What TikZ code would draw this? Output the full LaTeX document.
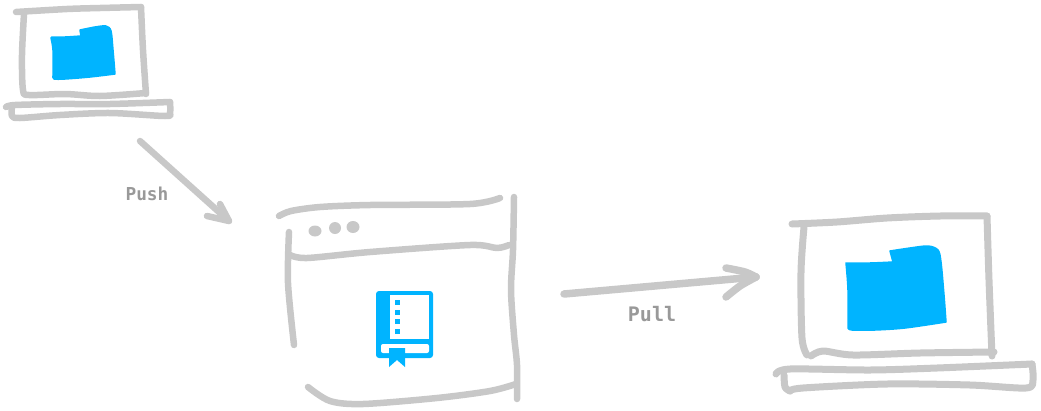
\documentclass[tikz,border=0pt]{standalone}
\usepackage{fontspec}
\newfontfamily\labelfont[Ligatures=NoCommon]{DejaVu Sans Mono}
\definecolor{sketchgray}{HTML}{C8C8C8}
\definecolor{labelgray}{HTML}{999999}
\definecolor{iconblue}{HTML}{00B4FF}
\tikzset{
  pen/.style={draw=sketchgray,line cap=round,line join=round,line width=#1},
  pen/.default=6.5pt,
  blob/.style={fill=iconblue,draw=iconblue,line width=1.5pt,line join=round},
  hand/.style={smooth,tension=0.5},
  steplabel/.style={font=\labelfont\bfseries,text=labelgray,inner sep=0pt}
}
\begin{document}
\begin{tikzpicture}[x=1pt,y=-1pt]
\useasboundingbox (0,0) rectangle (1041,410);
% small laptop
\draw[pen] plot[hand] coordinates {(16,12) (67,9) (100,8) (141,7)};
\draw[pen] plot[hand] coordinates {(141,7) (143,50) (146,94)};
\draw[pen] plot[hand] coordinates {(24,14) (22,55) (23,90) (29,95) (65,94) (100,96) (146,93)};
\draw[pen] plot[hand] coordinates {(6,107) (15,105) (60,104) (110,104) (170,102)};
\draw[pen] plot[hand] coordinates {(170,102) (170,113) (165,116) (110,113) (60,115) (20,118) (12,116) (12,107)};
\draw[blob] plot[hand] coordinates {(52,37) (65,37) (81,36)} -- (80,30) -- plot[hand] coordinates {(80,30) (95,27) (106,26) (111,31) (113,50) (115,74)} -- plot[hand] coordinates {(115,74) (90,77) (65,79) (54,79) (53,76)} -- plot[hand] coordinates {(53,76) (53,50) (51,38)} -- cycle;
% push arrow
\coordinate (pushstart) at (140,141);
\coordinate (pushend) at (229,221);
\coordinate (pushleft) at (207,216);
\coordinate (pushright) at (220,204);
\draw[pen=6.5pt] (pushstart) -- (pushend);
\draw[pen=6.5pt] (pushleft) -- (pushend) -- (pushright);
\node[steplabel,font=\fontsize{17.8pt}{20pt}\labelfont\bfseries] (pushlabel) at (147,194) {Push};
% window
\draw[pen] plot[hand] coordinates {(279,216) (291,211) (320,207) (370,205) (470,204) (500,198)};
\draw[pen] plot[hand] coordinates {(514,197) (513,250) (511,290) (514,335) (517,365) (517,399)};
\draw[pen] plot[hand] coordinates {(289,232) (288,283) (294,345)};
\draw[pen] plot[hand] coordinates {(290,255) (307,258) (370,252) (470,245) (497,248) (509,245)};
\draw[pen] plot[hand] coordinates {(308,387) (330,401) (363,404) (437,398) (490,391) (516,384)};
\fill[sketchgray] (315,231) ellipse [x radius=6.5pt,y radius=5.5pt];
\fill[sketchgray] (335,228) ellipse [x radius=6pt,y radius=6pt];
\fill[sketchgray] (353,227) ellipse [x radius=6.5pt,y radius=6pt];
% book icon
\fill[iconblue,rounded corners=3pt] (376,291) rectangle (433,358);
\fill[white] (390,295) rectangle (429,339);
\path[fill=white,rounded corners=2pt] (381,344) -- (429,344) -- (429,353) -- (381,353) -- cycle;
\fill[iconblue] (389,348) -- (405,348) -- (405,367) -- (397,360) -- (389,367) -- cycle;
\foreach \yy in {300,310,319,329} \fill[iconblue] (395,\yy) rectangle (400,\yy+5);
% pull arrow
\coordinate (pullstart) at (564,294);
\coordinate (pullend) at (756,277);
\coordinate (pullleft) at (726,268);
\coordinate (pullright) at (726,297);
\draw[pen=7.5pt] (pullstart) -- (pullend);
\draw[pen=7.5pt] plot[hand] coordinates {(pullleft) (745,272) (pullend)};
\draw[pen=7.5pt] plot[hand] coordinates {(pullend) (740,286) (pullright)};
\node[steplabel,font=\fontsize{20pt}{22pt}\labelfont\bfseries] (pulllabel) at (652,314) {Pull};
% large laptop
\draw[pen=7pt] plot[hand] coordinates {(792,224) (837,222) (887,218) (940,216) (987,216)};
\draw[pen=7pt] plot[hand] coordinates {(987,216) (989,280) (992,356)};
\draw[pen=7pt] plot[hand] coordinates {(804,227) (801,272) (802,338) (807,355)};
\draw[pen=7pt] plot[hand] coordinates {(811,356) (823,351) (853,355) (920,353) (994,352)};
\draw[pen=7pt] plot[hand] coordinates {(776,374) (790,369) (870,370) (937,368) (1032,364)};
\draw[pen=7pt] plot[hand] coordinates {(1032,364) (1033,380) (1026,388) (970,385) (887,384) (803,388) (790,391)};
\draw[pen=7pt] plot[hand] coordinates {(790,391) (785,387) (784,375)};
\draw[blob] plot[hand] coordinates {(846,263) (870,263) (893,262)} -- (890,251) -- plot[hand] coordinates {(890,251) (910,248) (928,246) (938,250) (941,262) (944,295) (946,322)} -- plot[hand] coordinates {(946,322) (905,328) (875,330) (852,330) (848,328)} -- plot[hand] coordinates {(848,328) (848,290) (846,263)} -- cycle;
\end{tikzpicture}
\end{document}
